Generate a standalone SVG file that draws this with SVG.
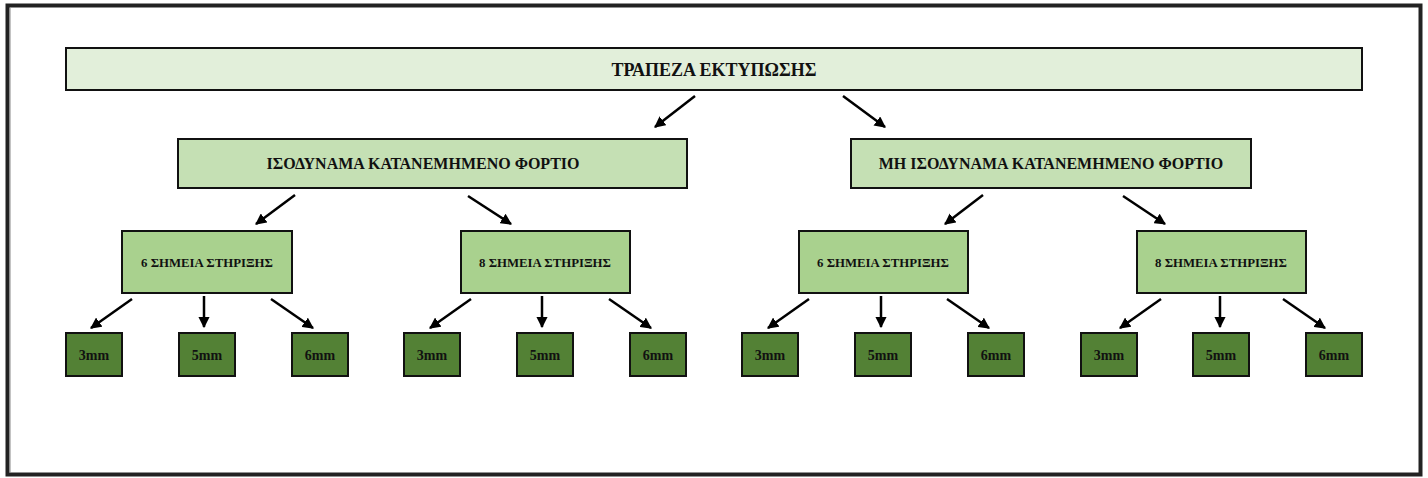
<svg xmlns="http://www.w3.org/2000/svg" width="1428" height="478" viewBox="0 0 1428 478">
<defs>
<marker id="ah" viewBox="0 0 10 10" refX="9" refY="5" markerWidth="4.5" markerHeight="4.5" orient="auto" markerUnits="strokeWidth">
<path d="M0,0 L10,5 L0,10 Z" fill="#000"/>
</marker>
<style>
text{font-family:"Liberation Serif","Times New Roman",serif;font-weight:bold;fill:#111;text-anchor:middle}
.b0{fill:#e2efda;stroke:#111;stroke-width:2}
.b1{fill:#c5e0b4;stroke:#111;stroke-width:2}
.b2{fill:#a9d18e;stroke:#111;stroke-width:2}
.b3{fill:#538135;stroke:#111;stroke-width:2}
.t0{font-size:18px}
.t1{font-size:16px}
.t2{font-size:12.8px}
.t3{font-size:14px}
#connectors line{stroke:#000;stroke-width:2.5;marker-end:url(#ah)}
</style>
</defs>
<rect x="0" y="0" width="1428" height="478" fill="#fff"/>
<rect x="7.5" y="5.5" width="1413" height="469" fill="none" stroke="#222" stroke-width="4"/>
<line x1="10" y1="8" x2="10" y2="473" stroke="#888" stroke-width="1"/>

<g id="connectors">
<line x1="695" y1="96" x2="655" y2="127"/>
<line x1="843" y1="96" x2="885" y2="127"/>
<line x1="295" y1="195" x2="256" y2="224"/>
<line x1="468" y1="196" x2="511" y2="224"/>
<line x1="983" y1="195" x2="945" y2="224"/>
<line x1="1123" y1="196" x2="1165" y2="224"/>
<line x1="132" y1="299" x2="91" y2="328"/>
<line x1="204" y1="296" x2="204" y2="327"/>
<line x1="271" y1="299" x2="313" y2="328"/>
<line x1="471" y1="299" x2="430" y2="328"/>
<line x1="542" y1="296" x2="542" y2="327"/>
<line x1="609" y1="299" x2="651" y2="328"/>
<line x1="809" y1="299" x2="768" y2="328"/>
<line x1="881" y1="296" x2="881" y2="327"/>
<line x1="947" y1="299" x2="989" y2="328"/>
<line x1="1161" y1="299" x2="1120" y2="328"/>
<line x1="1220" y1="296" x2="1220" y2="327"/>
<line x1="1283" y1="299" x2="1325" y2="328"/>
</g>

<g id="root"><rect class="b0" x="66" y="48" width="1296" height="42"/><text class="t0" x="714" y="76">ΤΡΑΠΕΖΑ ΕΚΤΥΠΩΣΗΣ</text></g>

<g id="isodynamo"><rect class="b1" x="178" y="139" width="509" height="49"/><text class="t1" x="423" y="169">ΙΣΟΔΥΝΑΜΑ ΚΑΤΑΝΕΜΗΜΕΝΟ ΦΟΡΤΙΟ</text></g>
<g id="mi-isodynamo"><rect class="b1" x="851" y="139" width="400" height="49"/><text class="t1" x="1051" y="169">ΜΗ ΙΣΟΔΥΝΑΜΑ ΚΑΤΑΝΕΜΗΜΕΝΟ ΦΟΡΤΙΟ</text></g>

<g id="iso-6"><rect class="b2" x="122" y="231" width="170" height="62"/><text class="t2" x="207" y="267">6 ΣΗΜΕΙΑ ΣΤΗΡΙΞΗΣ</text></g>
<g id="iso-8"><rect class="b2" x="461" y="231" width="169" height="62"/><text class="t2" x="545" y="267">8 ΣΗΜΕΙΑ ΣΤΗΡΙΞΗΣ</text></g>
<g id="miso-6"><rect class="b2" x="799" y="231" width="169" height="62"/><text class="t2" x="883" y="267">6 ΣΗΜΕΙΑ ΣΤΗΡΙΞΗΣ</text></g>
<g id="miso-8"><rect class="b2" x="1137" y="231" width="169" height="62"/><text class="t2" x="1221" y="267">8 ΣΗΜΕΙΑ ΣΤΗΡΙΞΗΣ</text></g>

<g id="iso6-3"><rect class="b3" x="66" y="333" width="56" height="43"/><text class="t3" x="94" y="360">3mm</text></g>
<g id="iso6-5"><rect class="b3" x="179" y="333" width="56" height="43"/><text class="t3" x="207" y="360">5mm</text></g>
<g id="iso6-6"><rect class="b3" x="292" y="333" width="56" height="43"/><text class="t3" x="320" y="360">6mm</text></g>
<g id="iso8-3"><rect class="b3" x="404" y="333" width="56" height="43"/><text class="t3" x="432" y="360">3mm</text></g>
<g id="iso8-5"><rect class="b3" x="517" y="333" width="56" height="43"/><text class="t3" x="545" y="360">5mm</text></g>
<g id="iso8-6"><rect class="b3" x="630" y="333" width="56" height="43"/><text class="t3" x="658" y="360">6mm</text></g>
<g id="miso6-3"><rect class="b3" x="742" y="333" width="56" height="43"/><text class="t3" x="770" y="360">3mm</text></g>
<g id="miso6-5"><rect class="b3" x="855" y="333" width="56" height="43"/><text class="t3" x="883" y="360">5mm</text></g>
<g id="miso6-6"><rect class="b3" x="968" y="333" width="56" height="43"/><text class="t3" x="996" y="360">6mm</text></g>
<g id="miso8-3"><rect class="b3" x="1081" y="333" width="56" height="43"/><text class="t3" x="1109" y="360">3mm</text></g>
<g id="miso8-5"><rect class="b3" x="1193" y="333" width="56" height="43"/><text class="t3" x="1221" y="360">5mm</text></g>
<g id="miso8-6"><rect class="b3" x="1306" y="333" width="56" height="43"/><text class="t3" x="1334" y="360">6mm</text></g>
</svg>
